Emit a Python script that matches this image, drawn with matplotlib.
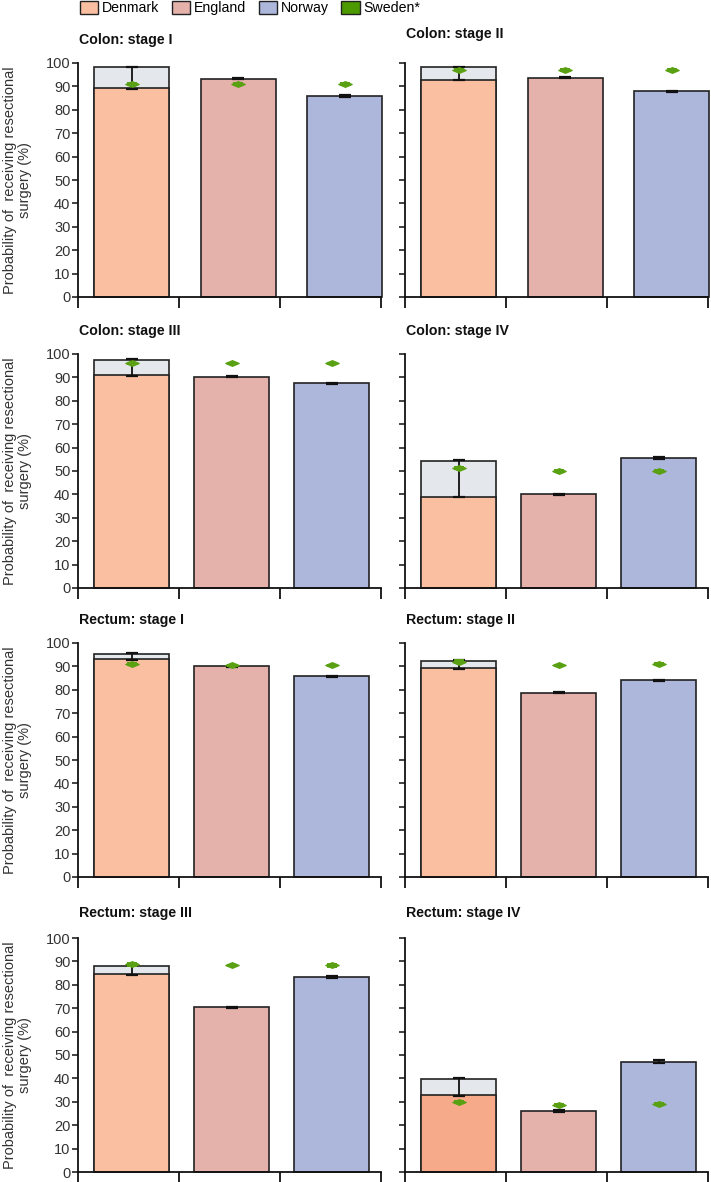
import numpy as np
import matplotlib
matplotlib.use("Agg")
from matplotlib import pyplot as plt
from matplotlib.path import Path
from matplotlib.patches import Patch

plt.rcParams['font.family'] = ['Liberation Sans Narrow', 'Liberation Sans', 'DejaVu Sans']

## data
titles = ["Colon: stage I", "Colon: stage II", "Colon: stage III", "Colon: stage IV",
          "Rectum: stage I", "Rectum: stage II", "Rectum: stage III", "Rectum: stage IV"]
countries = ["Denmark", "England", "Norway", "Sweden*"]

denmark = [89.5, 92.8, 91.0, 39.0, 93.3, 89.5, 84.5, 32.8]
denmark_top = [98.2, 98.2, 97.5, 54.3, 95.5, 92.5, 88.0, 39.7]   # grey range
denmark_lo = [89.0, 92.6, 90.7, 38.8, 92.8, 89.0, 84.0, 32.4]
denmark_hi = [98.4, 98.3, 97.7, 54.6, 95.8, 92.7, 88.5, 40.0]

england = [93.3, 93.7, 90.3, 40.0, 90.0, 78.8, 70.3, 26.0]
england_lo = [93.1, 93.5, 90.1, 39.8, 89.8, 78.5, 70.1, 25.7]
england_hi = [93.7, 93.9, 90.5, 40.2, 90.2, 79.0, 70.5, 26.3]

norway = [86.0, 88.0, 87.4, 55.5, 85.7, 84.0, 83.5, 47.2]
norway_lo = [85.6, 87.8, 87.1, 55.1, 85.3, 83.6, 83.0, 46.6]
norway_hi = [86.3, 88.2, 87.7, 55.9, 86.1, 84.3, 83.9, 47.9]

# Sweden shown at each of the three bars
sweden = [[91.0, 91.0, 91.0], [97.2, 97.0, 97.0], [96.0, 96.0, 96.0], [51.3, 50.0, 50.0],
          [91.0, 90.5, 90.5], [92.0, 90.5, 91.0], [88.8, 88.3, 88.3], [30.0, 28.6, 29.0]]
sweden_err = [[0.3, 0.3, 0.3], [0.3, 0.3, 0.3], [0.3, 0.3, 0.3], [0.3, 0.3, 0.3],
              [0.3, 0.3, 0.3], [0.6, 0.3, 0.6], [0.6, 0.3, 0.6], [0.4, 0.3, 0.4]]

denmark_colors = ["#f9bfa0"] * 7 + ["#f6aa8a"]
england_color = "#e4b1ab"
norway_color = "#adb7dc"
sweden_color = "#59a012"
grey = "#e4e8ec"

W, H = 711, 1182
fig = plt.figure(figsize=(W / 100, H / 100), dpi=100)

row_top = [63, 354, 643, 938]
row_bot = [297, 588, 877, 1172]
col_x = [78, 405]
spacing = [1.055, 0.99, 0.99, 0.99]
title_y = [[40, 34], [331, 331], [620, 620], [913, 913]]

diamond = Path([(-1, 0), (0, 0.42), (1, 0), (0, -0.42), (-1, 0)],
               [Path.MOVETO, Path.LINETO, Path.LINETO, Path.LINETO, Path.CLOSEPOLY])

for k in range(8):
    r, c = k // 2, k % 2
    ax = fig.add_axes([col_x[c] / W, 1 - row_bot[r] / H, 303 / W, (row_bot[r] - row_top[r]) / H])
    pos = 0.03 + np.arange(3) * spacing[r]
    w = 0.743

    ax.bar(pos[0], denmark_top[k], width=w, color=grey, edgecolor="#222222", lw=1.2, clip_on=False)
    ax.bar(pos[0], denmark[k], width=w, color=denmark_colors[k], edgecolor="#222222", lw=1.2, clip_on=False)
    ax.bar(pos[1], england[k], width=w, color=england_color, edgecolor="#222222", lw=1.2, clip_on=False)
    ax.bar(pos[2], norway[k], width=w, color=norway_color, edgecolor="#222222", lw=1.2, clip_on=False)

    mids = [(denmark_lo[k] + denmark_hi[k]) / 2, (england_lo[k] + england_hi[k]) / 2,
            (norway_lo[k] + norway_hi[k]) / 2]
    lo = [mids[0] - denmark_lo[k], mids[1] - england_lo[k], mids[2] - norway_lo[k]]
    hi = [denmark_hi[k] - mids[0], england_hi[k] - mids[1], norway_hi[k] - mids[2]]
    ax.errorbar(pos, mids, yerr=[lo, hi], fmt="none", ecolor="#111111", elinewidth=1.3,
                capsize=4, capthick=1.6, clip_on=False, zorder=4)

    ax.errorbar(pos, sweden[k], yerr=sweden_err[k], fmt="none", ecolor=sweden_color,
                elinewidth=1.2, capsize=3.5, capthick=1.4, clip_on=False, zorder=5)
    ax.plot(pos, sweden[k], ls="none", marker=diamond, ms=9.5, color=sweden_color,
            clip_on=False, zorder=6)

    ax.set_xlim(-0.5, 2.5)
    ax.set_ylim(0, 100)
    ax.set_xticks([-0.5, 0.5, 1.5, 2.5])
    ax.set_xticklabels([])
    ax.set_yticks(np.arange(0, 101, 10))
    ax.tick_params(axis="x", direction="out", length=8, width=1.3, color="#111111")
    ax.tick_params(axis="y", direction="out", length=4, width=1.1, color="#111111",
                   labelsize=10.5, pad=1.5, labelcolor="#333333")
    for s in ["top", "right"]:
        ax.spines[s].set_visible(False)
    for s in ["left", "bottom"]:
        ax.spines[s].set_linewidth(1.3)
        ax.spines[s].set_color("#111111")
    if c == 1:
        ax.set_yticklabels([])
    else:
        ax.set_ylabel("Probability of  receiving resectional\nsurgery (%)", fontsize=10.5,
                      labelpad=10, color="#333333", linespacing=1.1)

    fig.text((col_x[c] + 1) / W, 1 - title_y[r][c] / H, titles[k], fontsize=10.2,
             fontweight="bold", va="center", ha="left", color="#111111")

handles = [Patch(facecolor=denmark_colors[0], edgecolor="#222222"),
           Patch(facecolor=england_color, edgecolor="#222222"),
           Patch(facecolor=norway_color, edgecolor="#222222"),
           Patch(facecolor="#4c9a00", edgecolor="#222222")]
fig.legend(handles, countries, loc="center", bbox_to_anchor=(250 / W, 1 - 8 / H), ncol=4,
           frameon=False, fontsize=10.2, handlelength=1.3, handleheight=1.1,
           handletextpad=0.25, columnspacing=0.9, borderpad=0)

fig.savefig("out.png", dpi=100)
